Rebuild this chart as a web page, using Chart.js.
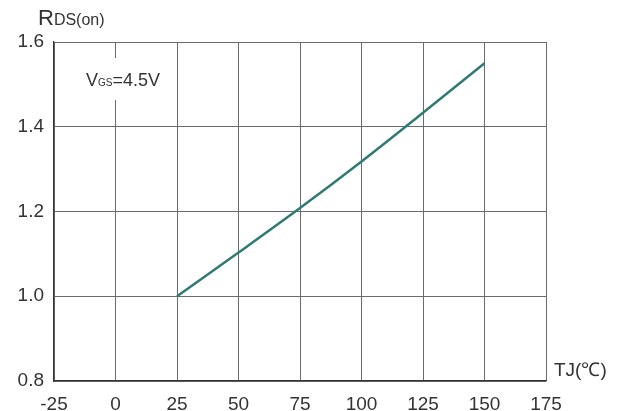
<!DOCTYPE html>
<html>
<head>
<meta charset="utf-8">
<script src="https://cdn.jsdelivr.net/npm/chart.js@4/dist/chart.umd.min.js"></script>
<style>
  html, body { margin: 0; padding: 0; background: #fff; }
  #wrap { width: 626px; height: 411px; }
</style>
</head>
<body>
<div id="wrap"><canvas id="c" width="626" height="411"></canvas></div>
<script>
// junction temperature (C) and normalised RDS(on)
var tempC = [25, 50, 75, 100, 125, 150];
var rdsOn = [1.0, 1.103, 1.208, 1.318, 1.433, 1.55];
var xTicks = [-25, 0, 25, 50, 75, 100, 125, 150, 175];
var yTicks = [0.8, 1.0, 1.2, 1.4, 1.6];

var FONT = '"Liberation Sans", Arial, sans-serif';
var TXT = '#333';

var points = tempC.map(function (t, i) { return { x: t, y: rdsOn[i] }; });

// labels that sit outside the axes
var labelsPlugin = {
	id: 'labels',
	afterDraw: function (chart) {
		var ctx = chart.ctx;
		ctx.save();
		ctx.fillStyle = TXT;
		ctx.textBaseline = 'alphabetic';
		ctx.textAlign = 'left';
		// RDS(on)
		ctx.font = '22px ' + FONT;
		ctx.fillText('R', 38, 25);
		var w = ctx.measureText('R').width;
		ctx.font = '16px ' + FONT;
		ctx.fillText('DS(on)', 38 + w, 25);
		// TJ(C)
		ctx.font = '19px ' + FONT;
		ctx.fillText('TJ(\u2103)', 554, 376);
		// VGS box
		ctx.fillStyle = '#fff';
		ctx.fillRect(82, 58, 86, 42);
		ctx.fillStyle = TXT;
		ctx.font = '18px ' + FONT;
		ctx.fillText('V', 86, 86);
		var vx = 86 + ctx.measureText('V').width;
		ctx.font = '10px ' + FONT;
		ctx.fillText('GS', vx, 86);
		vx += ctx.measureText('GS').width;
		ctx.font = '18px ' + FONT;
		ctx.fillText('=4.5V', vx, 86);
		ctx.restore();
	}
};

new Chart(document.getElementById('c'), {
	type: 'scatter',
	data: {
		datasets: [{
			data: points,
			showLine: true,
			borderColor: '#2f7b73',
			borderWidth: 2.5,
			pointRadius: 0,
			tension: 0.4,
			cubicInterpolationMode: 'monotone',
			fill: false
		}]
	},
	options: {
		responsive: false,
		animation: false,
		layout: { padding: { top: 42, right: 80, left: 0, bottom: 0 } },
		plugins: { legend: { display: false }, tooltip: { enabled: false } },
		scales: {
			x: {
				type: 'linear',
				min: -25, max: 175,
				afterBuildTicks: function (s) { s.ticks = xTicks.map(function (v) { return { value: v }; }); },
				afterFit: function (s) { s.height = 30; },
				grid: { color: '#686c70', lineWidth: 1, drawTicks: false },
				border: { color: '#333', width: 1.2 },
				ticks: { padding: 12, color: TXT, font: { family: FONT, size: 19 }, maxRotation: 0, autoSkip: false }
			},
			y: {
				type: 'linear',
				min: 0.8, max: 1.6,
				afterBuildTicks: function (s) { s.ticks = yTicks.map(function (v) { return { value: v }; }); },
				afterFit: function (s) { s.width = 54; },
				grid: { color: '#686c70', lineWidth: 1, drawTicks: false },
				border: { color: '#333', width: 1.2 },
				ticks: {
					padding: 10, color: TXT, font: { family: FONT, size: 19 },
					callback: function (v) { return v.toFixed(1); }
				}
			}
		}
	},
	plugins: [labelsPlugin]
});
</script>
</body>
</html>
